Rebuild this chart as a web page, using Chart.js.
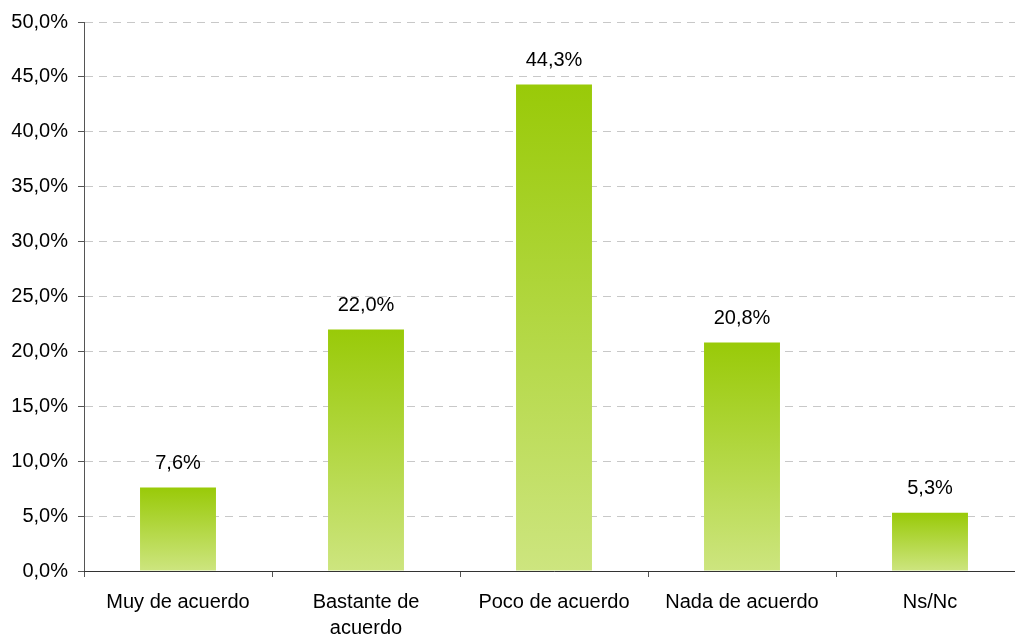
<!DOCTYPE html>
<html>
<head>
<meta charset="utf-8">
<script src="https://cdn.jsdelivr.net/npm/chart.js@4/dist/chart.umd.min.js"></script>
<style>
  html, body { margin: 0; padding: 0; background: #fff; overflow: hidden; }
  #wrap { width: 1030px; height: 635px; position: relative; }
</style>
</head>
<body>
<div id="wrap"><canvas id="chart"></canvas></div>
<script>
// Datos del gráfico
const categories = ['Muy de acuerdo', ['Bastante de', 'acuerdo'], 'Poco de acuerdo', 'Nada de acuerdo', 'Ns/Nc'];
const values = [7.6, 22.0, 44.3, 20.8, 5.3];
const yTicks = [0, 5, 10, 15, 20, 25, 30, 35, 40, 45, 50];

const FONT = '"Liberation Sans", Arial, sans-serif';
const fmt = v => v.toFixed(1).replace('.', ',') + '%';

// Degradado por barra: verde intenso arriba, claro abajo
function barGradient(context) {
  const chart = context.chart;
  const { ctx, chartArea, scales } = chart;
  if (!chartArea) return '#9acb0c';
  const v = context.raw;
  const top = scales.y.getPixelForValue(v);
  const bottom = scales.y.getPixelForValue(0);
  const g = ctx.createLinearGradient(0, top, 0, bottom);
  g.addColorStop(0, '#99ca08');
  g.addColorStop(1, '#cde57f');
  return g;
}

// Etiquetas de valor sobre las barras
const valueLabels = {
  id: 'valueLabels',
  afterDatasetsDraw(chart) {
    const { ctx } = chart;
    const meta = chart.getDatasetMeta(0);
    ctx.save();
    ctx.font = '20px ' + FONT;
    ctx.fillStyle = '#000';
    ctx.textAlign = 'center';
    ctx.textBaseline = 'middle';
    meta.data.forEach((bar, i) => {
      ctx.fillText(fmt(values[i]), bar.x, bar.y - 24);
    });
    ctx.restore();
  }
};

new Chart(document.getElementById('chart'), {
  type: 'bar',
  data: {
    labels: categories,
    datasets: [{
      data: values,
      backgroundColor: barGradient,
      borderWidth: 0,
      barPercentage: 0.404,
      categoryPercentage: 1
    }]
  },
  options: {
    responsive: true,
    maintainAspectRatio: false,
    animation: false,
    layout: { padding: { top: 12, right: 6, left: 0, bottom: 0 } },
    plugins: {
      legend: { display: false },
      tooltip: { enabled: false }
    },
    scales: {
      y: {
        min: 0,
        max: 50,
        afterBuildTicks(scale) {
          scale.ticks = yTicks.map(v => ({ value: v }));
        },
        afterFit(scale) { scale.width = 84; },
        ticks: {
          callback: v => fmt(v),
          font: { family: FONT, size: 20 },
          color: '#000',
          padding: 10
        },
        grid: {
          color: '#c8c8c8',
          lineWidth: 1,
          tickLength: 6,
          tickColor: '#555',
          tickBorderDash: []
        },
        border: {
          color: '#555',
          width: 1,
          dash: [8, 6]
        }
      },
      x: {
        afterFit(scale) { scale.height = 64; },
        ticks: {
          font: { family: FONT, size: 20, lineHeight: 1.3 },
          color: '#000',
          padding: 12,
          maxRotation: 0,
          autoSkip: false
        },
        grid: {
          offset: true,
          drawOnChartArea: false,
          tickLength: 6,
          tickColor: '#555'
        },
        border: {
          color: '#333',
          width: 1
        }
      }
    }
  },
  plugins: [valueLabels]
});
</script>
</body>
</html>
